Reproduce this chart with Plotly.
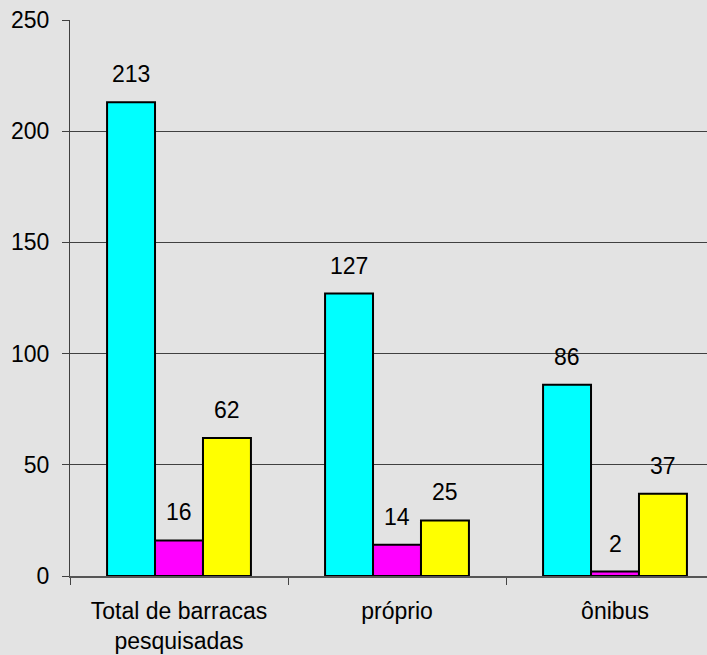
import plotly.graph_objects as go

categories = ["Total de barracas<br>pesquisadas", "próprio", "ônibus"]
serie_a = [213, 127, 86]
serie_b = [16, 14, 2]
serie_c = [62, 25, 37]
y_ticks = [0, 50, 100, 150, 200, 250]

colors = ["#00FFFF", "#FF00FF", "#FFFF00"]
font = dict(family="Liberation Sans, Arial, sans-serif", size=23, color="black")

fig = go.Figure()
for vals, col in zip([serie_a, serie_b, serie_c], colors):
    fig.add_trace(go.Bar(
        x=categories, y=vals,
        marker=dict(color=col, line=dict(color="black", width=2)),
        showlegend=False,
    ))

# value labels above each bar
shifts = [-48, 0, 48]
for vals, dx in zip([serie_a, serie_b, serie_c], shifts):
    for cat, v in zip(categories, vals):
        fig.add_annotation(
            x=cat, y=v, text=str(v), showarrow=False,
            xshift=dx, yshift=13, yanchor="bottom", font=font,
        )

fig.update_layout(
    width=707, height=655,
    paper_bgcolor="#E3E3E3", plot_bgcolor="#E3E3E3",
    margin=dict(l=70, r=0, t=20, b=79),
    barmode="group", bargap=0.34, bargroupgap=0,
    font=font,
)
fig.update_xaxes(
    range=[-0.5, 2.422], showline=True, linecolor="#555555", linewidth=1.5,
    ticks="outside", tickson="boundaries", ticklen=7, tickcolor="#444444",
    showgrid=False, zeroline=False, ticklabelstandoff=14,
)
fig.update_yaxes(
    range=[0, 250], tickvals=y_ticks, showline=True, linecolor="#404040",
    linewidth=1, ticks="outside", ticklen=7, tickcolor="#404040",
    showgrid=True, gridcolor="#404040", gridwidth=1, zeroline=False,
    ticklabelstandoff=8,
)

fig.write_html("out.html", config={"displayModeBar": False},
               post_script="document.body.style.margin='0';")
